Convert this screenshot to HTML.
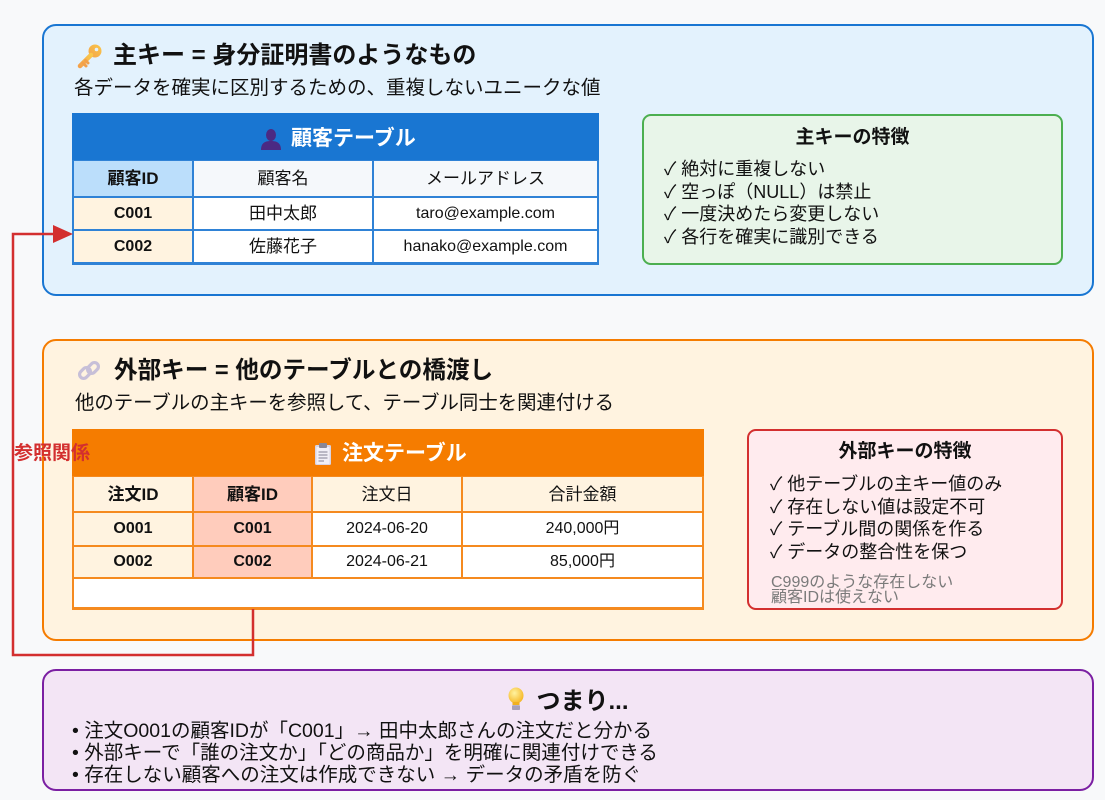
<!DOCTYPE html>
<html lang="ja">
<head>
<meta charset="utf-8">
<style>
  html,body{margin:0;padding:0;}
  body{width:1105px;height:800px;background:#f8f9fa;position:relative;overflow:hidden;
       font-family:"Liberation Sans","Noto Sans CJK JP",sans-serif;color:#111;}
  .box{position:absolute;box-sizing:border-box;}
  .t{position:absolute;white-space:nowrap;}
  .c{position:absolute;display:block;text-align:center;font-size:16px;color:#111;white-space:nowrap;overflow:hidden;}
  .j{font-size:17px;}
  .b{font-weight:bold;}
</style>
</head>
<body>

<!-- Primary key section -->
<div class="box" style="left:42px;top:24px;width:1052px;height:272px;background:#e3f2fd;border:2.5px solid #1976d2;border-radius:14px;"></div>

<svg class="t" style="left:76px;top:43px;" width="28" height="28" viewBox="0 0 28 28">
  <defs><linearGradient id="kg" x1="0" y1="1" x2="1" y2="0"><stop offset="0" stop-color="#f4a24a"/><stop offset="1" stop-color="#f9c84a"/></linearGradient></defs>
  <circle cx="19" cy="8" r="6.5" fill="url(#kg)"/>
  <circle cx="20.5" cy="6.5" r="1.8" fill="#e3f2fd"/>
  <path d="M15 12 L4 23" stroke="url(#kg)" stroke-width="4.5" stroke-linecap="round"/>
  <path d="M7 20 L10 23 M9.5 17.5 L12 20" stroke="#f2a04a" stroke-width="3" stroke-linecap="round"/>
</svg>
<div class="t b" style="left:113px;top:41px;font-size:24px;line-height:30px;">主キー = 身分証明書のようなもの</div>
<div class="t" style="left:74px;top:75px;font-size:19.5px;line-height:26px;">各データを確実に区別するための、重複しないユニークな値</div>

<!-- Customer table -->
<div class="box" style="left:72px;top:113px;width:527px;height:152px;background:#2f82d6;"></div>
<div class="box" style="left:72px;top:113px;width:527px;height:47px;background:#1976d2;"></div>
<svg class="t" style="left:259px;top:127px;" width="24" height="24" viewBox="0 0 24 24">
  <ellipse cx="12" cy="8" rx="5" ry="6" fill="#4b2a83"/>
  <path d="M2 23 C2 16 6 14 12 14 C18 14 22 16 22 23 Z" fill="#4b2a83"/>
</svg>
<div class="t b" style="left:291px;top:125px;font-size:21px;line-height:28px;color:#fff;">顧客テーブル</div>

<div class="c b j" style="left:74px;top:161px;width:118px;height:35px;line-height:36px;background:#bbdefb;">顧客ID</div>
<div class="c j" style="left:194px;top:161px;width:178px;height:35px;line-height:36px;background:#f5f8fb;">顧客名</div>
<div class="c j" style="left:374px;top:161px;width:223px;height:35px;line-height:36px;background:#f5f8fb;">メールアドレス</div>

<div class="c b" style="left:74px;top:198px;width:118px;height:31px;line-height:32px;background:#fff3e0;">C001</div>
<div class="c j" style="left:194px;top:198px;width:178px;height:31px;line-height:32px;background:#fff;">田中太郎</div>
<div class="c" style="left:374px;top:198px;width:223px;height:31px;line-height:32px;background:#fff;">taro@example.com</div>

<div class="c b" style="left:74px;top:231px;width:118px;height:31px;line-height:32px;background:#fff3e0;">C002</div>
<div class="c j" style="left:194px;top:231px;width:178px;height:31px;line-height:32px;background:#fff;">佐藤花子</div>
<div class="c" style="left:374px;top:231px;width:223px;height:31px;line-height:32px;background:#fff;">hanako@example.com</div>

<!-- Primary key features -->
<div class="box" style="left:642px;top:114px;width:421px;height:151px;background:#e8f5e9;border:2.5px solid #4caf50;border-radius:9px;"></div>
<div class="t b" style="left:642px;width:421px;text-align:center;top:125px;font-size:19px;line-height:26px;">主キーの特徴</div>
<div class="t" style="left:664px;top:158px;font-size:18px;line-height:22.6px;">✓ 絶対に重複しない<br>✓ 空っぽ（NULL）は禁止<br>✓ 一度決めたら変更しない<br>✓ 各行を確実に識別できる</div>

<!-- Foreign key section -->
<div class="box" style="left:42px;top:339px;width:1052px;height:302px;background:#fff3e0;border:2.5px solid #f57c00;border-radius:14px;"></div>

<svg class="t" style="left:76px;top:358px;" width="26" height="26" viewBox="0 0 26 26">
  <g fill="none" stroke="#c7bfd8" stroke-width="3.2">
    <rect x="3" y="11" width="12" height="8" rx="4" transform="rotate(-45 9 15)"/>
    <rect x="11" y="6" width="12" height="8" rx="4" transform="rotate(-45 17 10)"/>
  </g>
</svg>
<div class="t b" style="left:114px;top:356px;font-size:23.6px;line-height:30px;">外部キー = 他のテーブルとの橋渡し</div>
<div class="t" style="left:75px;top:390px;font-size:19.4px;line-height:26px;">他のテーブルの主キーを参照して、テーブル同士を関連付ける</div>

<!-- Order table -->
<div class="box" style="left:72px;top:429px;width:632px;height:181px;background:#f58a1f;"></div>
<div class="box" style="left:72px;top:429px;width:632px;height:47px;background:#f57c00;"></div>
<svg class="t" style="left:313px;top:442px;" width="20" height="24" viewBox="0 0 20 24">
  <rect x="2" y="3" width="16" height="20" rx="1.5" fill="#d9d4e4"/>
  <rect x="3.5" y="5" width="13" height="17" fill="#f1eff6"/>
  <rect x="6" y="1" width="8" height="5" rx="1" fill="#8a8796"/>
  <path d="M5.5 10 H14.5 M5.5 13 H14.5 M5.5 16 H14.5 M5.5 19 H11" stroke="#9a97a8" stroke-width="1.2"/>
</svg>
<div class="t b" style="left:342px;top:440px;font-size:21px;line-height:28px;color:#fff;">注文テーブル</div>

<div class="c b j" style="left:74px;top:477px;width:118px;height:34px;line-height:35px;background:#fff3e0;">注文ID</div>
<div class="c b j" style="left:194px;top:477px;width:117px;height:34px;line-height:35px;background:#ffccbc;">顧客ID</div>
<div class="c j" style="left:313px;top:477px;width:148px;height:34px;line-height:35px;background:#fff3e0;">注文日</div>
<div class="c j" style="left:463px;top:477px;width:239px;height:34px;line-height:35px;background:#fff3e0;">合計金額</div>

<div class="c b" style="left:74px;top:513px;width:118px;height:32px;line-height:32px;background:#fff3e0;">O001</div>
<div class="c b" style="left:194px;top:513px;width:117px;height:32px;line-height:32px;background:#ffccbc;">C001</div>
<div class="c" style="left:313px;top:513px;width:148px;height:32px;line-height:32px;background:#fff;">2024-06-20</div>
<div class="c" style="left:463px;top:513px;width:239px;height:32px;line-height:32px;background:#fff;">240,000円</div>

<div class="c b" style="left:74px;top:547px;width:118px;height:30px;line-height:30px;background:#fff3e0;">O002</div>
<div class="c b" style="left:194px;top:547px;width:117px;height:30px;line-height:30px;background:#ffccbc;">C002</div>
<div class="c" style="left:313px;top:547px;width:148px;height:30px;line-height:30px;background:#fff;">2024-06-21</div>
<div class="c" style="left:463px;top:547px;width:239px;height:30px;line-height:30px;background:#fff;">85,000円</div>

<div class="box" style="left:74px;top:579px;width:628px;height:28px;background:#fff;"></div>

<!-- Foreign key features -->
<div class="box" style="left:747px;top:429px;width:316px;height:181px;background:#ffebee;border:2.5px solid #d32f2f;border-radius:9px;"></div>
<div class="t b" style="left:747px;width:316px;text-align:center;top:439px;font-size:19px;line-height:26px;">外部キーの特徴</div>
<div class="t" style="left:770px;top:473px;font-size:18px;line-height:22.6px;">✓ 他テーブルの主キー値のみ<br>✓ 存在しない値は設定不可<br>✓ テーブル間の関係を作る<br>✓ データの整合性を保つ</div>
<div class="t" style="left:771px;top:575px;font-size:16px;line-height:15px;color:#7a7a7a;">C999のような存在しない<br>顧客IDは使えない</div>

<!-- Summary section -->
<div class="box" style="left:42px;top:669px;width:1052px;height:122px;background:#f3e5f5;border:2.5px solid #7b1fa2;border-radius:14px;"></div>
<div class="t" style="left:42px;width:1052px;top:687px;text-align:center;line-height:30px;">
  <svg style="vertical-align:-4px;margin-right:11px;" width="18" height="26" viewBox="0 0 18 26">
    <defs><radialGradient id="bg" cx="0.4" cy="0.35" r="0.7"><stop offset="0" stop-color="#fff3a0"/><stop offset="1" stop-color="#f5b41f"/></radialGradient></defs>
    <ellipse cx="9" cy="8.5" rx="7.5" ry="8" fill="url(#bg)"/>
    <rect x="5.5" y="15" width="7" height="3" fill="#f0b020"/>
    <rect x="5" y="18" width="8" height="5" rx="1" fill="#b7b0c8"/>
    <path d="M5 20 H13 M5 22 H13" stroke="#8d86a0" stroke-width="0.8"/>
  </svg><span class="b" style="font-size:24px;">つまり...</span>
</div>
<div class="t" style="left:72px;top:720px;font-size:19.5px;line-height:22.2px;">• 注文O001の顧客IDが「C001」→ 田中太郎さんの注文だと分かる<br>• 外部キーで「誰の注文か」「どの商品か」を明確に関連付けできる<br>• 存在しない顧客への注文は作成できない → データの矛盾を防ぐ</div>

<!-- Reference connector -->
<svg class="t" style="left:0;top:0;" width="1105" height="800" viewBox="0 0 1105 800">
  <polyline points="253,609 253,655 13,655 13,234 54,234" fill="none" stroke="#d32f2f" stroke-width="2.5"/>
  <polygon points="53,225 73,234 53,243" fill="#d32f2f"/>
  <text x="14" y="459" font-family="Liberation Sans, Noto Sans CJK JP, sans-serif" font-size="19" font-weight="bold" fill="#d32f2f">参照関係</text>
</svg>

</body>
</html>
